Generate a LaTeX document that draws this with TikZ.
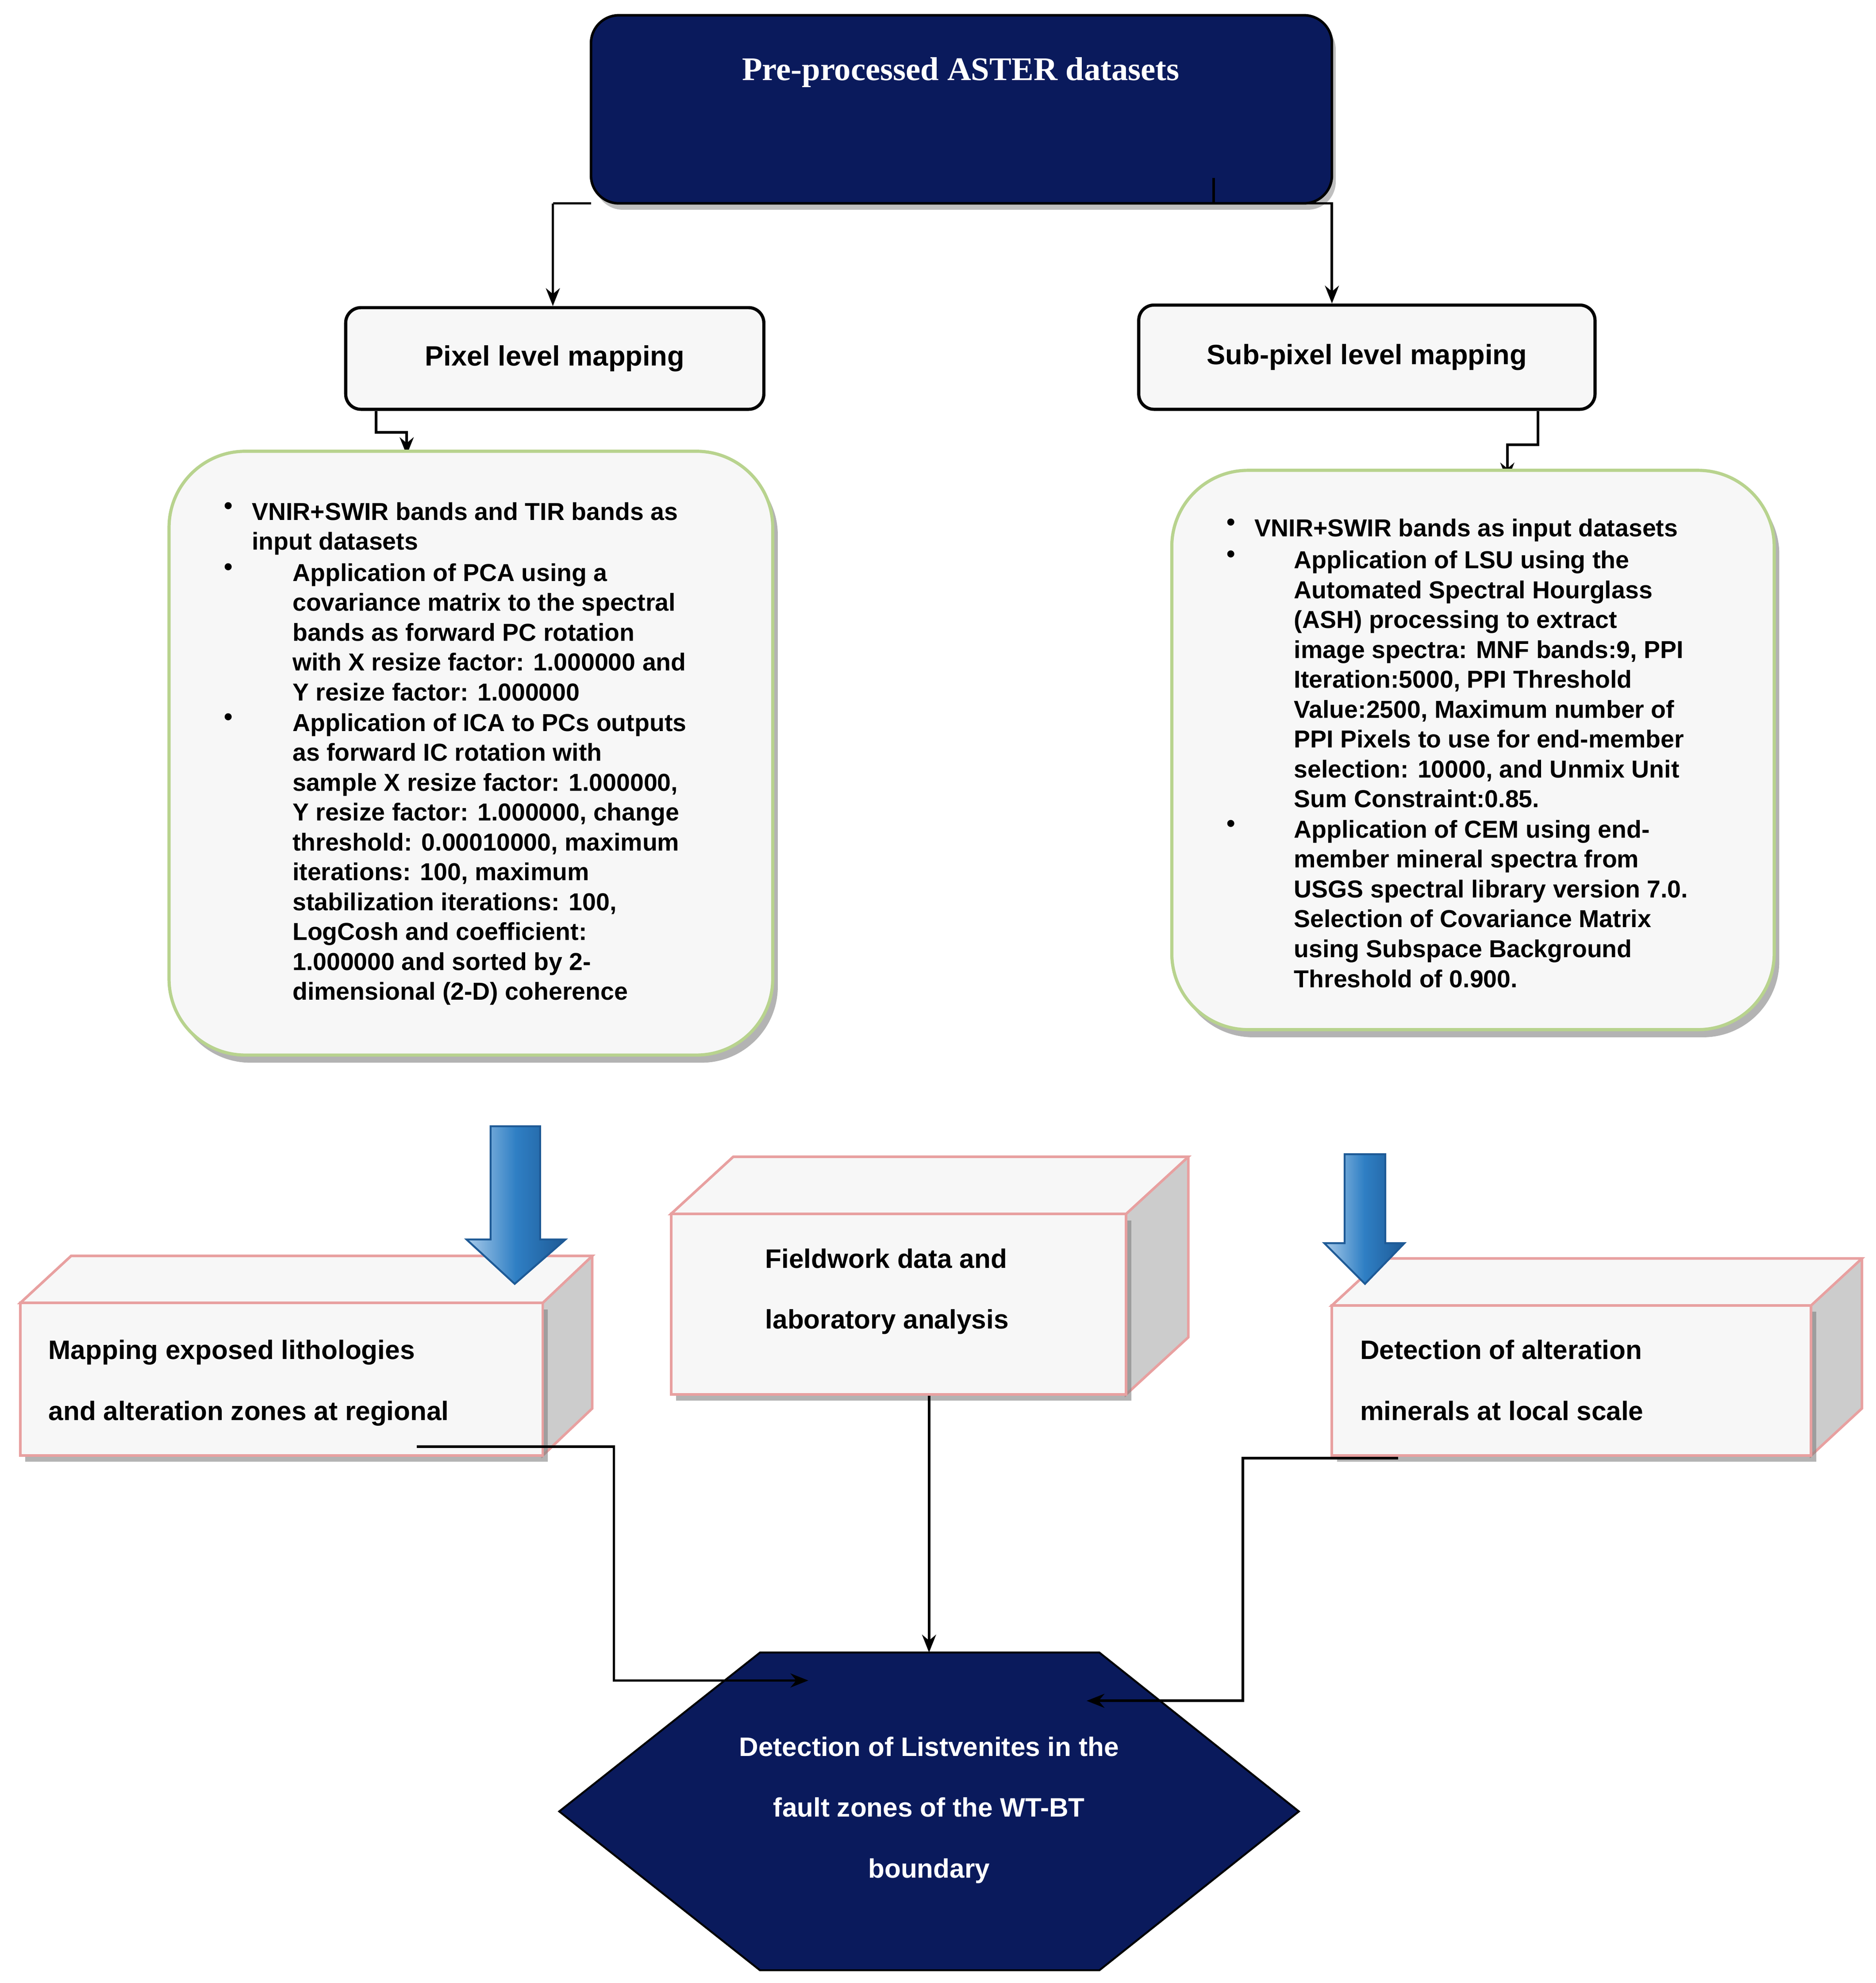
\documentclass[tikz,border=0pt]{standalone}
\usepackage{fontspec}
\setmainfont{Liberation Serif}
\newfontfamily\sfb{Liberation Sans}[BoldFont={Liberation Sans Bold}]
\usetikzlibrary{shadows,arrows.meta}
\definecolor{navy}{HTML}{0A1A5C}
\definecolor{pinkb}{HTML}{E8A0A0}
\definecolor{greenb}{HTML}{B8D38E}
\definecolor{bgf}{HTML}{F7F7F7}
\definecolor{lblue}{HTML}{A9CBEA}
\definecolor{mblue}{HTML}{2F7FC4}
\definecolor{dblue}{HTML}{1E5A96}
\begin{document}
\begin{tikzpicture}[x=1pt,y=-1pt,
 conn/.style={line width=2pt,-{Stealth[length=14pt,width=11pt]}},
 bul/.style={anchor=north west,align=left,inner sep=0pt,font=\sfb\bfseries\fontsize{19.3}{23.5}\selectfont},
 dot/.style={anchor=north west,inner sep=0pt,font=\sfb\bfseries\fontsize{19.3}{23.5}\selectfont},
 btxt/.style={anchor=north west,align=left,inner sep=0pt,font=\sfb\bfseries\fontsize{21}{48}\selectfont},
 frontf/.style={draw=pinkb,line width=2pt,fill=bgf,drop shadow={shadow xshift=4pt,shadow yshift=-5pt,opacity=0.6}},
 sidef/.style={draw=pinkb,line width=2pt,fill=gray!40},
 blk/.style={draw=dblue,line width=1.5pt,left color=lblue,right color=dblue,middle color=mblue}]
\useasboundingbox (0,0) rectangle (1476,1560);
% top box
\node[draw=black,line width=2pt,fill=navy,rounded corners=22pt,minimum width=583pt,minimum height=148pt,drop shadow={shadow xshift=3pt,shadow yshift=-5pt}] (top) at (756.5,86) {};
\node[text=white,font=\bfseries\fontsize{26}{30}\selectfont] (toptxt) at (756,57) {Pre-processed ASTER datasets};
% mapping boxes
\node[draw=black,line width=2.5pt,fill=bgf,rounded corners=12pt,minimum width=329pt,minimum height=80pt,font=\sfb\bfseries\fontsize{22}{26}\selectfont] (pix) at (436.5,282) {Pixel level mapping};
\node[draw=black,line width=2.5pt,fill=bgf,rounded corners=12pt,minimum width=359pt,minimum height=82pt,font=\sfb\bfseries\fontsize{22}{26}\selectfont] (sub) at (1075.5,281) {Sub-pixel level mapping};
\coordinate (tl) at (435,160); \coordinate (tr) at (955,140);
\draw[line width=2pt] (465,160) -- (tl);
\draw[conn] (tl) -- (pix.north -| tl);
\draw[conn] (tr) |- (1048,160) -- (sub.north -| 1048,0);
\draw[conn] (pix.south -| 296,0) |- (320,340) -- (320,358);
\draw[conn] (sub.south -| 1210,0) |- (1186,350) -- (1186,378);
% detail boxes
\node[draw=greenb,line width=2.5pt,fill=bgf,rounded corners=60pt,minimum width=475pt,minimum height=475pt,drop shadow={shadow xshift=4pt,shadow yshift=-6pt,opacity=0.6}] (ld) at (370.5,592.5) {};
\node[draw=greenb,line width=2.5pt,fill=bgf,rounded corners=60pt,minimum width=474pt,minimum height=440pt,drop shadow={shadow xshift=4pt,shadow yshift=-6pt,opacity=0.6}] (rd) at (1159,590) {};
\node[dot] (l1d) at (176,395) {\textbullet};
\node[bul] (l1) at (198,395) {VNIR+SWIR bands and TIR bands as\\input datasets};
\node[dot] (l2d) at (176,443) {\textbullet};
\node[bul] (l2) at (230,443) {Application of PCA using a\\covariance matrix to the spectral\\bands as forward PC rotation\\with X resize factor: 1.000000 and\\Y resize factor: 1.000000};
\node[dot] (l3d) at (176,561) {\textbullet};
\node[bul] (l3) at (230,561) {Application of ICA to PCs outputs\\as forward IC rotation with\\sample X resize factor: 1.000000,\\Y resize factor: 1.000000, change\\threshold: 0.00010000, maximum\\iterations: 100, maximum\\stabilization iterations: 100,\\LogCosh and coefficient:\\1.000000 and sorted by 2-\\dimensional (2-D) coherence};
\node[dot] (r1d) at (965,408) {\textbullet};
\node[bul] (r1) at (987,408) {VNIR+SWIR bands as input datasets};
\node[dot] (r2d) at (965,433) {\textbullet};
\node[bul] (r2) at (1018,433) {Application of LSU using the\\Automated Spectral Hourglass\\(ASH) processing to extract\\image spectra: MNF bands:9, PPI\\Iteration:5000, PPI Threshold\\Value:2500, Maximum number of\\PPI Pixels to use for end-member\\selection: 10000, and Unmix Unit\\Sum Constraint:0.85.};
\node[dot] (r3d) at (965,645) {\textbullet};
\node[bul] (r3) at (1018,645) {Application of CEM using end-\\member mineral spectra from\\USGS spectral library version 7.0.\\Selection of Covariance Matrix\\using Subspace Background\\Threshold of 0.900.};
% 3D boxes
\draw[sidef] (16,1025) -- (56,988) -- (466,988) -- (466,1108) -- (427,1145) -- (427,1025) -- cycle;
\draw[sidef,fill=bgf] (16,1025) -- (56,988) -- (466,988) -- (427,1025) -- cycle;
\node[frontf,minimum width=411pt,minimum height=120pt,inner sep=0pt] (lb) at (221.5,1085) {};
\draw[sidef] (528,955) -- (577,910) -- (935,910) -- (935,1052) -- (886,1097) -- (886,955) -- cycle;
\draw[sidef,fill=bgf] (528,955) -- (577,910) -- (935,910) -- (886,955) -- cycle;
\node[frontf,minimum width=358pt,minimum height=142pt,inner sep=0pt] (mb) at (707,1026) {};
\draw[sidef] (1048,1027) -- (1088,990) -- (1465,990) -- (1465,1108) -- (1425,1145) -- (1425,1027) -- cycle;
\draw[sidef,fill=bgf] (1048,1027) -- (1088,990) -- (1465,990) -- (1425,1027) -- cycle;
\node[frontf,minimum width=377pt,minimum height=118pt,inner sep=0pt] (rb) at (1236.5,1086) {};
\node[btxt] (lbt) at (38,1054) {Mapping exposed lithologies\\and alteration zones at regional};
\node[btxt] (mbt) at (602,982) {Fieldwork data and\\laboratory analysis};
\node[btxt] (rbt) at (1070,1054) {Detection of alteration\\minerals at local scale};
% block arrows
\draw[blk] (386,886) -- (425,886) -- (425,975) -- (445,975) -- (405,1010) -- (367,975) -- (386,975) -- cycle;
\draw[blk] (1058,908) -- (1090,908) -- (1090,978) -- (1105,978) -- (1074,1010) -- (1042,978) -- (1058,978) -- cycle;
% hexagon
\fill[navy,draw=black,line width=1.5pt] (440,1425) -- (598,1300) -- (865,1300) -- (1022,1425) -- (865,1550) -- (598,1550) -- cycle;
\node[text=white,align=center,font=\sfb\bfseries\fontsize{21}{48}\selectfont] (hext) at (731,1424) {Detection of Listvenites in the\\fault zones of the WT-BT\\boundary};
% connectors
\coordinate (la) at (328,1138); \coordinate (le) at (636,1322);
\coordinate (ra) at (1100,1147); \coordinate (re) at (855,1338);
\coordinate (mt) at (731,1300);
\draw[conn] (la) -- (483,1138) |- (le);
\draw[conn] (mb.south -| mt) -- (mt);
\draw[conn] (ra) -- (978,1147) |- (re);
\end{tikzpicture}
\end{document}
